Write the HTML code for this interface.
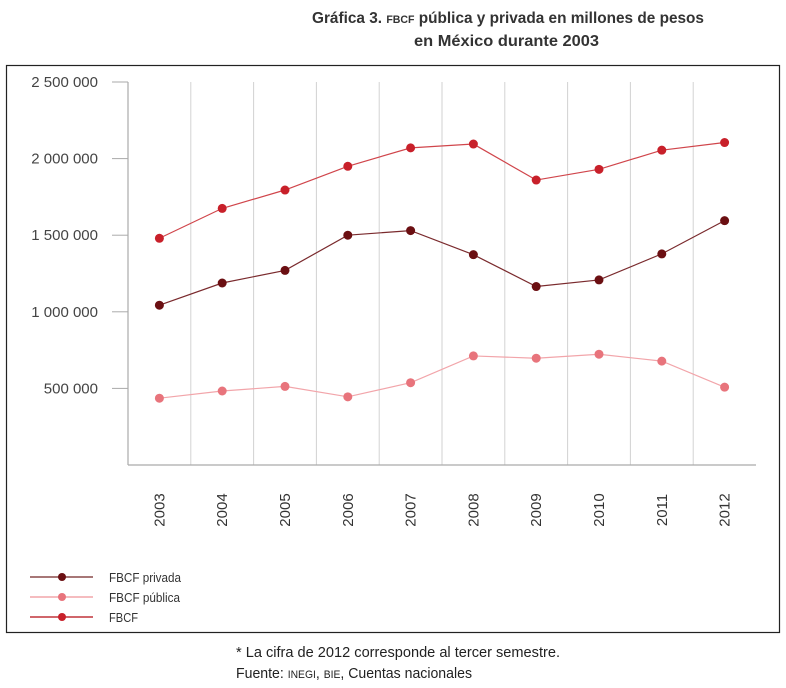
<!DOCTYPE html>
<html><head><meta charset="utf-8"><style>
body{margin:0;background:#fff;width:786px;height:683px;overflow:hidden;font-family:"Liberation Sans",sans-serif}
.t{font-family:"Liberation Sans Narrow","Liberation Sans",sans-serif}
</style></head><body>
<svg width="786" height="683" xmlns="http://www.w3.org/2000/svg">
<text class="t" x="312" y="23" textLength="392" lengthAdjust="spacingAndGlyphs" font-size="16" font-weight="bold" fill="#333">Gráfica 3. <tspan font-size="11">FBCF</tspan> pública y privada en millones de pesos</text>
<text class="t" x="414" y="46" textLength="185" lengthAdjust="spacingAndGlyphs" font-size="16" font-weight="bold" fill="#333">en México durante 2003</text>
<rect x="6.5" y="65.5" width="773" height="567" fill="none" stroke="#222" stroke-width="1.2"/>
<g id="grid"></g><g id="axes"></g><g id="series"></g>
<g>
<g><line x1="30" x2="93" y1="577" y2="577" stroke="#8a4a4a" stroke-width="1.5"/><circle cx="62" cy="577" r="4" fill="#6b0f12"/><text class="t" x="109" y="582" font-size="13" textLength="72" lengthAdjust="spacingAndGlyphs" fill="#333">FBCF privada</text></g>
<g><line x1="30" x2="93" y1="597" y2="597" stroke="#f2a5aa" stroke-width="1.5"/><circle cx="62" cy="597" r="4" fill="#e8747c"/><text class="t" x="109" y="602" font-size="13" textLength="71" lengthAdjust="spacingAndGlyphs" fill="#333">FBCF pública</text></g>
<g><line x1="30" x2="93" y1="617" y2="617" stroke="#c0343a" stroke-width="1.5"/><circle cx="62" cy="617" r="4" fill="#c8202a"/><text class="t" x="109" y="622" font-size="13" textLength="29" lengthAdjust="spacingAndGlyphs" fill="#333">FBCF</text></g>
</g>
<text class="t" x="236" y="657" font-size="15" textLength="324" lengthAdjust="spacingAndGlyphs" fill="#222">* La cifra de 2012 corresponde al tercer semestre.</text>
<text class="t" x="236" y="678" font-size="15" textLength="236" lengthAdjust="spacingAndGlyphs" fill="#222">Fuente: <tspan font-size="11">INEGI</tspan>, <tspan font-size="11">BIE</tspan>, Cuentas nacionales</text>
</svg>
<script>
const years=["2003","2004","2005","2006","2007","2008","2009","2010","2011","2012"];
const fbcf=[1480000,1675000,1795000,1950000,2070000,2095000,1860000,1930000,2055000,2105000];
const privada=[1043000,1188000,1270000,1500000,1530000,1373000,1165000,1208000,1378000,1595000];
const publica=[436000,483000,513000,445000,537000,712000,697000,723000,678000,508000];
const yTicks=[500000,1000000,1500000,2000000,2500000];
const yTickLabels=["500 000","1 000 000","1 500 000","2 000 000","2 500 000"];
const NS="http://www.w3.org/2000/svg";
const x0=128,x1=756,yBase=465,pxPer=76.6/500000;
const step=(x1-x0)/years.length;
const xs=i=>x0+step*(i+0.5);
const ys=v=>yBase-v*pxPer;
function mk(t,a,p){const e=document.createElementNS(NS,t);for(const k in a)e.setAttribute(k,a[k]);p.appendChild(e);return e;}
const grid=document.getElementById('grid'),axes=document.getElementById('axes'),ser=document.getElementById('series');
for(let i=1;i<years.length;i++){const l=mk('line',{x1:x0+step*i,x2:x0+step*i,y1:ys(2500000),y2:yBase,stroke:'#d2d2d2','stroke-width':1},grid);

}
const ya=mk('line',{x1:x0,x2:x0,y1:ys(2500000),y2:yBase,stroke:'#aaa','stroke-width':1.2},axes);


const xa=mk('line',{x1:x0,x2:x1,y1:yBase,y2:yBase,stroke:'#aaa','stroke-width':1.2},axes);


yTicks.forEach((v,i)=>{const tk=mk('line',{x1:112,x2:x0,y1:ys(v),y2:ys(v),stroke:'#aaa','stroke-width':1},axes);


const t=mk('text',{x:98,y:ys(v)+5,'text-anchor':'end','font-size':15,fill:'#444'},axes);t.textContent=yTickLabels[i];

});
years.forEach((y,i)=>{const t=mk('text',{transform:`translate(${xs(i)+5},510) rotate(-90)`,'text-anchor':'middle','font-size':15,fill:'#333'},axes);t.textContent=y;

});
function draw(arr,lc,dc,name){const pts=arr.map((v,i)=>xs(i)+','+ys(v)).join(' ');
const pl=mk('polyline',{points:pts,fill:'none',stroke:lc,'stroke-width':1.2},ser);


arr.forEach((v,i)=>{const c=mk('circle',{cx:xs(i),cy:ys(v),r:4.5,fill:dc},ser);

});}
draw(publica,'#f2a5aa','#e8747c','publica');
draw(privada,'#7a2a2d','#6b0f12','privada');
draw(fbcf,'#d0454b','#c8202a','fbcf');
</script>
</body></html>
